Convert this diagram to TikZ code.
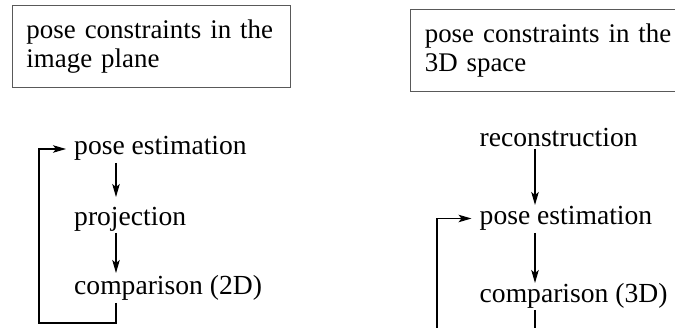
\documentclass[tikz,border=0pt]{standalone}
\usepackage{fontspec}
\setmainfont{Liberation Serif}
\usetikzlibrary{arrows.meta}

\begin{document}
\begin{tikzpicture}[x=1pt,y=1pt,
  every node/.style={font=\fontsize{27.6pt}{29pt}\selectfont,inner sep=0pt},
  stepnode/.style={anchor=base west},
  cbox/.style={draw=black!65,line width=1pt,anchor=north west,text width=250pt,
    align=left,inner xsep=14.3pt,minimum height=82pt,
    font=\fontsize{26.9pt}{29pt}\selectfont},
  flow/.style={-{Stealth[length=13pt,width=7.5pt,inset=3pt]},line width=1.1pt}
]
\useasboundingbox (0,0) rectangle (675,-328);
\clip (0,0) rectangle (675,-328);

% the constraint boxes
\node[cbox] (cL) at (11.7,-4.7) {\mbox{pose constraints in the}\\\mbox{image plane}};
\node[cbox] (cR) at (410,-9.3) {\mbox{pose constraints in the}\\\mbox{3D space}};

% the loop in the image plane
\node[stepnode] (peL) at (74,-155) {pose estimation};
\node[stepnode] (prL) at (74,-226) {projection};
\node[stepnode] (cmL) at (74,-295) {comparison (2D)};

\draw[flow] ([xshift=42pt,yshift=-8pt]peL.base west) -- ([xshift=42pt,yshift=29pt]prL.base west);
\draw[flow] ([xshift=42pt,yshift=-7pt]prL.base west) -- ([xshift=42pt,yshift=22pt]cmL.base west);
\draw[flow] ([xshift=42pt,yshift=-8pt]cmL.base west) |- ++(-77pt,-20pt)
  |- ([xshift=-8pt,yshift=6pt]peL.base west);

% the loop in the 3D space
\node[stepnode] (reR) at (479.5,-147) {reconstruction};
\node[stepnode] (peR) at (479.5,-225) {pose estimation};
\node[stepnode] (cmR) at (479.5,-303) {comparison (3D)};

\draw[flow] ([xshift=55.5pt,yshift=-2pt]reR.base west) -- ([xshift=55.5pt,yshift=20pt]peR.base west);
\draw[flow] ([xshift=55.5pt,yshift=-8pt]peR.base west) -- ([xshift=55.5pt,yshift=20pt]cmR.base west);
\draw[flow] ([xshift=55.5pt,yshift=-7pt]cmR.base west) |- ++(-98pt,-40pt)
  |- ([xshift=-8pt,yshift=6.5pt]peR.base west);
\end{tikzpicture}
\end{document}
